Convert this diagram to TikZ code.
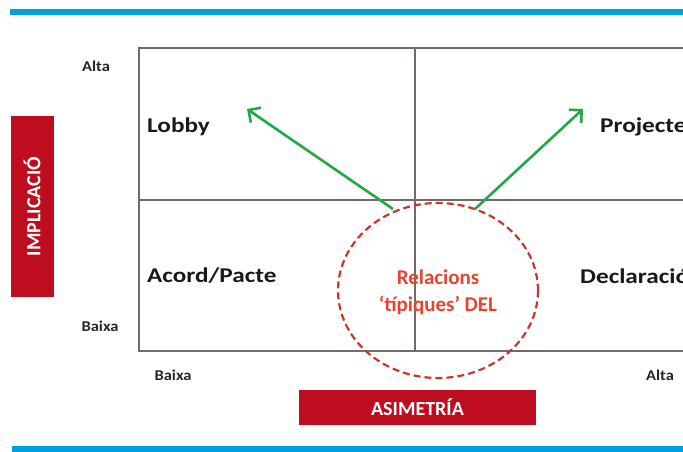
\documentclass[tikz,border=0pt]{standalone}
\usepackage{fontspec}
\setmainfont{Carlito}
\newfontfamily\widesans[FakeStretch=1.2]{Carlito}
\newfontfamily\semiwidesans[FakeStretch=1.1]{Carlito}
\usepackage{tikz}
\usetikzlibrary{arrows.meta}
\definecolor{barblue}{HTML}{009FE0}
\definecolor{boxred}{HTML}{BE0D1E}
\definecolor{gridgray}{HTML}{716B6B}
\definecolor{arrowgreen}{HTML}{22A848}
\definecolor{ringred}{HTML}{C8372C}
\definecolor{textred}{HTML}{E8432C}
\tikzset{
  quadlabel/.style={font=\widesans\fontsize{21}{24}\selectfont\bfseries, text=black!90, inner sep=0pt},
  axislabel/.style={font=\semiwidesans\fontsize{15}{17}\selectfont\bfseries, text=black!85, inner sep=0pt},
  titlebox/.style={fill=boxred, text=white, font=\fontsize{20}{22}\selectfont\bfseries, inner sep=0pt},
  arrowline/.style={arrowgreen, line width=2.6pt, -{Straight Barb[length=9pt,width=18pt,line width=2.6pt]}}
}
\begin{document}
\begin{tikzpicture}[x=1pt,y=-1pt]
	\useasboundingbox (0,0) rectangle (683,452);
	\clip (0,0) rectangle (683,452);
	% blue bars
	\fill[barblue] (10,9) rectangle (683,15);
	\fill[barblue] (12,446) rectangle (683,452);
	% grid
	\draw[gridgray, line width=2pt] (700,48) -- (139,48) -- (139,351) -- (700,351);
	\draw[gridgray, line width=2pt] (139,200) -- (700,200);
	\draw[gridgray, line width=2pt] (415,48) -- (415,351);
	% axis boxes
	\node[titlebox, minimum width=181pt, minimum height=43pt, rotate=90] (impl) at (32,206.5) {IMPLICACIÓ};
	\node[titlebox, minimum width=237pt, minimum height=35pt] (asim) at (417.5,407.5) {ASIMETRÍA};
	% axis labels
	\node[axislabel] (altaY) at (96,66) {Alta};
	\node[axislabel] (baixaY) at (100,326) {Baixa};
	\node[axislabel] (baixaX) at (173,375) {Baixa};
	\node[axislabel] (altaX) at (660,375) {Alta};
	% quadrants
	\node[quadlabel, anchor=west] (lobby) at (147,127) {Lobby};
	\node[quadlabel, anchor=west] (acord) at (147,276) {Acord/Pacte};
	\node[quadlabel, anchor=west] (proj) at (600,127) {Projecte};
	\node[quadlabel, anchor=west] (decl) at (580,276) {Declaració};
	% typical relations
	\draw[ringred, line width=2.2pt, dash pattern=on 7pt off 4pt] (438,290.5) ellipse [x radius=100, y radius=87.5];
	\node[font=\fontsize{21}{27}\selectfont\bfseries, text=textred, align=center] (rel) at (438,292) {Relacions\\‘típiques’ DEL};
	\coordinate (startL) at (393,209);
	\coordinate (startR) at (475,209);
	\coordinate (tipL) at (247,109);
	\coordinate (tipR) at (583,109);
	\draw[arrowline] (startL) -- (tipL);
	\draw[arrowline] (startR) -- (tipR);
\end{tikzpicture}
\end{document}
